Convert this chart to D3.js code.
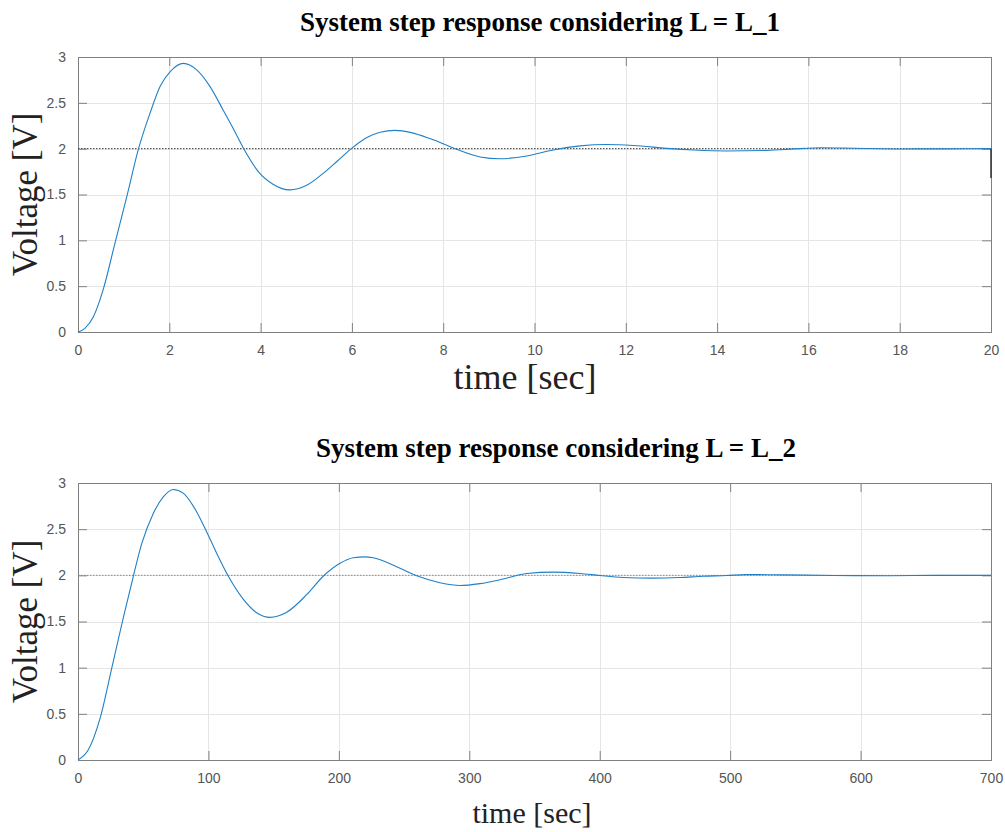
<!DOCTYPE html>
<html lang="en">
  <head>
    <meta charset="UTF-8" />
    <style>
      body { margin: 0; background: #fff; }
      svg { font-family: "Liberation Sans", Helvetica, sans-serif; }
      .tick text { fill: #555; font-size: 14px; }
      .title { font-family: "Liberation Serif", "Times New Roman", serif; font-weight: bold; font-size: 27px; fill: #000; }
      .label { font-family: "Liberation Serif", "Times New Roman", serif; fill: #222; }
    </style>
    <script src="https://cdn.jsdelivr.net/npm/d3@7"></script>
    <title>Step response</title>
  </head>
  <body>
    <script>
      // values
      var t1 = [0, 0.15, 0.34, 0.55, 0.81, 1.07, 1.32, 1.58, 1.8, 2.02, 2.31, 2.6, 2.89, 3.18, 3.42, 3.64, 3.95, 4.28, 4.64, 5.01, 5.37, 5.67, 5.96, 6.32, 6.62, 6.94, 7.3, 7.71, 8.26, 8.81, 9.24, 9.83, 10.41, 11.0, 11.58, 12.16, 12.97, 13.5, 14.2, 15.0, 15.6, 16.3, 17.0, 18.0, 19.0, 20.0];
      var v1 = [0, 0.04, 0.17, 0.46, 0.97, 1.48, 1.99, 2.39, 2.68, 2.84, 2.93, 2.86, 2.68, 2.42, 2.2, 1.99, 1.75, 1.61, 1.55, 1.6, 1.73, 1.86, 1.99, 2.12, 2.18, 2.2, 2.175, 2.11, 2.0, 1.91, 1.89, 1.92, 1.985, 2.03, 2.045, 2.035, 2.0, 1.985, 1.975, 1.98, 1.995, 2.01, 2.005, 1.997, 1.998, 2.0];
      var t2 = [0, 7.9, 16.9, 25.8, 34.7, 42.4, 48.8, 57.7, 65.4, 73.1, 80.7, 88.4, 98.7, 106.3, 115.3, 126.8, 137, 147.2, 160, 175.3, 188, 200.9, 211, 220, 226.4, 241.7, 259.7, 277.5, 292.9, 308.2, 326, 344, 364.4, 384.9, 400.2, 418, 441, 461.5, 479.4, 497.3, 512, 540, 580, 620, 660, 700];
      var v2 = [0, 0.11, 0.45, 0.99, 1.54, 1.99, 2.34, 2.67, 2.85, 2.93, 2.89, 2.75, 2.47, 2.24, 1.99, 1.74, 1.595, 1.545, 1.6, 1.79, 1.99, 2.13, 2.19, 2.2, 2.19, 2.11, 1.995, 1.92, 1.89, 1.91, 1.96, 2.02, 2.035, 2.02, 1.998, 1.977, 1.97, 1.977, 1.99, 1.998, 2.008, 2.005, 1.998, 1.996, 2.0, 2.0];
      var finalValue = 2;
      var tailDrop1 = 1.68; // short dark mark at the right end of the first plot
      var xTicks1 = [0, 2, 4, 6, 8, 10, 12, 14, 16, 18, 20];
      var xTicks2 = [0, 100, 200, 300, 400, 500, 600, 700];
      var yTicks = [0, 0.5, 1, 1.5, 2, 2.5, 3];
      var titles = ["System step response considering L = L_1", "System step response considering L = L_2"];

      var W = 1005, H = 832;
      var svg = d3.select("body").append("svg").attr("width", W).attr("height", H);

      function drawPanel(p) {
        var left = 78, right = 991, top = p.top, bottom = p.bottom, xTicks = p.xTicks;
        var x = d3.scaleLinear().domain([xTicks[0], xTicks[xTicks.length - 1]]).range([left, right]);
        var y = d3.scaleLinear().domain([0, 3]).range([bottom, top]);
        var g = svg.append("g");

        // grid
        g.append("g").selectAll("line").data(xTicks).enter().append("line")
          .attr("x1", function (d) { return Math.round(x(d)) + 0.5; })
          .attr("x2", function (d) { return Math.round(x(d)) + 0.5; })
          .attr("y1", top).attr("y2", bottom)
          .style("stroke", "#e5e5e5");
        g.append("g").selectAll("line").data(yTicks).enter().append("line")
          .attr("y1", function (d) { return Math.round(y(d)) + 0.5; })
          .attr("y2", function (d) { return Math.round(y(d)) + 0.5; })
          .attr("x1", left).attr("x2", right)
          .style("stroke", "#e5e5e5");

        // axes, boxed, ticks pointing inward on every side
        var axB = g.append("g").attr("transform", "translate(0," + bottom + ")")
          .call(d3.axisBottom(x).tickValues(xTicks).tickSize(-9).tickPadding(13).tickFormat(d3.format("d")));
        var axT = g.append("g").attr("transform", "translate(0," + top + ")")
          .call(d3.axisTop(x).tickValues(xTicks).tickSize(-9).tickFormat(""));
        var axL = g.append("g").attr("transform", "translate(" + left + ",0)")
          .call(d3.axisLeft(y).tickValues(yTicks).tickSize(-9).tickPadding(12).tickFormat(d3.format("")));
        var axR = g.append("g").attr("transform", "translate(" + right + ",0)")
          .call(d3.axisRight(y).tickValues(yTicks).tickSize(-9).tickFormat(""));
        [axB, axT, axL, axR].forEach(function (a) {
          a.selectAll(".domain").style("stroke", "#808080");
          a.selectAll(".tick line").style("stroke", "#808080");
        });

        // final value line
        g.append("line")
          .attr("x1", left).attr("x2", right)
          .attr("y1", y(finalValue)).attr("y2", y(finalValue))
          .style("stroke", p.dotColor).style("stroke-dasharray", "1.5,1.5");

        // response
        var pts = p.ts.map(function (t, i) { return [t, p.vs[i]]; });
        g.append("path").datum(pts)
          .attr("d", d3.line().x(function (d) { return x(d[0]); }).y(function (d) { return y(d[1]); })
            .curve(d3.curveMonotoneX))
          .style("fill", "none").style("stroke", "#1f80c8").style("stroke-width", 1.1);

        if (p.drop !== null) {
          g.append("line")
            .attr("x1", right).attr("x2", right)
            .attr("y1", y(finalValue)).attr("y2", y(p.drop))
            .style("stroke", "#333").style("stroke-width", 1.5);
        }

        // labels
        svg.append("text").attr("class", "title")
          .attr("x", p.titleX).attr("y", top - 26)
          .attr("text-anchor", "middle").text(p.title);
        svg.append("text").attr("class", "label").style("font-size", "35px")
          .attr("transform", "translate(37," + (top + bottom) / 2 + ") rotate(-90)")
          .attr("text-anchor", "middle").text("Voltage [V]");
        svg.append("text").attr("class", "label").style("font-size", p.xLabelSize + "px")
          .attr("x", p.xLabelX).attr("y", bottom + p.xLabelDy)
          .attr("text-anchor", "middle").text("time [sec]");
      }

      drawPanel({ top: 57, bottom: 332, ts: t1, vs: v1, xTicks: xTicks1, title: titles[0], titleX: 540,
        dotColor: "#333", drop: tailDrop1, xLabelX: 525, xLabelSize: 36, xLabelDy: 57 });
      drawPanel({ top: 483, bottom: 760, ts: t2, vs: v2, xTicks: xTicks2, title: titles[1], titleX: 556,
        dotColor: "#888", drop: null, xLabelX: 532, xLabelSize: 30, xLabelDy: 63 });
    </script>
  </body>
</html>
